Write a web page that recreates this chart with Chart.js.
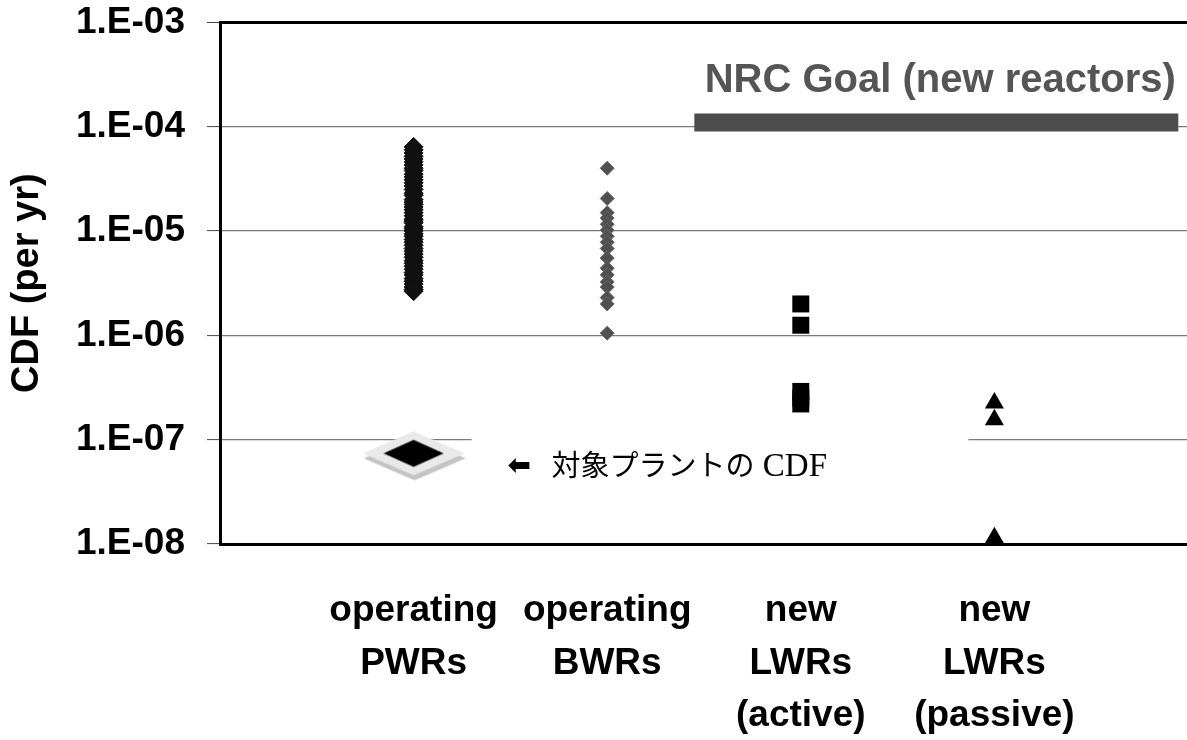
<!DOCTYPE html>
<html lang="ja">
<head>
<meta charset="utf-8">
<title>CDF (per yr)</title>
<script src="https://cdn.jsdelivr.net/npm/chart.js@4.4.1/dist/chart.umd.min.js"></script>
<style>
    html, body { margin: 0; padding: 0; background: #fff; overflow: hidden; }
    #wrap { width: 1200px; height: 740px; }
</style>
</head>
<body>
<div id="wrap"><canvas id="cdfChart" width="1200" height="740"></canvas></div>
<script>
// Category positions on the x axis and their (multi-line) labels
const categoryX = [1, 2, 3, 4];
const categoryLabels = [
    ['operating', 'PWRs'],
    ['operating', 'BWRs'],
    ['new', 'LWRs', '(active)'],
    ['new', 'LWRs', '(passive)']
];

// Log axis ticks
const yTickValues = [1e-8, 1e-7, 1e-6, 1e-5, 1e-4, 1e-3];
const yTickLabels = ['1.E-08', '1.E-07', '1.E-06', '1.E-05', '1.E-04', '1.E-03'];

// Core damage frequency per plant (per yr)
const pwrCdf = [
    6.4e-5, 6.0e-5, 5.6e-5, 5.2e-5, 4.9e-5, 4.6e-5, 4.3e-5, 4.0e-5, 3.8e-5, 3.5e-5,
    3.3e-5, 3.1e-5, 2.9e-5, 2.7e-5, 2.5e-5, 2.3e-5, 2.2e-5, 2.0e-5, 1.9e-5, 1.8e-5,
    1.7e-5, 1.6e-5, 1.5e-5, 1.4e-5, 1.3e-5, 1.25e-5, 1.2e-5, 1.1e-5, 1.05e-5, 1.0e-5,
    9.4e-6, 8.9e-6, 8.3e-6, 7.8e-6, 7.3e-6, 6.8e-6, 6.4e-6, 6.0e-6, 5.6e-6, 5.2e-6,
    4.9e-6, 4.6e-6, 4.3e-6, 4.0e-6, 3.8e-6, 3.5e-6, 3.3e-6, 3.1e-6, 2.9e-6, 2.75e-6,
    2.65e-6
];
const bwrCdf = [
    4.0e-5, 2.05e-5, 1.5e-5, 1.33e-5, 1.16e-5, 1.02e-5, 8.9e-6, 7.8e-6, 6.8e-6, 5.5e-6,
    4.4e-6, 3.8e-6, 3.25e-6, 2.9e-6, 2.3e-6, 2.0e-6, 1.05e-6
];
const activeCdf = [2.0e-6, 1.25e-6, 2.9e-7, 2.5e-7, 2.2e-7];
const passiveCdf = [2.25e-7, 1.55e-7, 1.15e-8];

// NRC goal for new reactors (drawn as a thick bar)
const nrcGoalX = [2.45, 4.95];
const nrcGoalValue = 1.1e-4;

// Target plant CDF marker
const plantX = 1;
const plantCdf = 7.4e-8;

const FONT = '"Liberation Sans", Arial, sans-serif';

/**
 * Builds the flat "plant" diamond with its grey base as an image point style
 */
function makePlantMarker() {
    const c = document.createElement('canvas');
    c.width = 112;
    c.height = 64;
    const g = c.getContext('2d');
    const diamond = (cx, cy, hw, hh, color) => {
        g.beginPath();
        g.moveTo(cx - hw, cy);
        g.lineTo(cx, cy - hh);
        g.lineTo(cx + hw, cy);
        g.lineTo(cx, cy + hh);
        g.closePath();
        g.fillStyle = color;
        g.fill();
    };
    diamond(57, 37, 51, 22, '#c4c4c4'); // shadow
    diamond(56, 32, 51, 22, '#e9e9e9'); // base
    diamond(56, 32, 30, 13.5, '#000000');
    return c;
}

const toPoints = (x, values) => values.map(v => ({ x: x, y: v }));

// Draws the NRC label and the plant note, and blanks the grid line behind the note
const annotationPlugin = {
    id: 'cdfNotes',
    beforeDatasetsDraw(chart) {
        const { ctx, scales: { x, y } } = chart;
        const gy = y.getPixelForValue(1e-7);
        ctx.save();
        ctx.fillStyle = '#ffffff';
        ctx.fillRect(x.getPixelForValue(categoryX[0]) + 58, gy - 5, x.getPixelForValue(categoryX[3]) - x.getPixelForValue(categoryX[0]) - 84, 10);
        ctx.restore();
    },
    afterDatasetsDraw(chart) {
        const { ctx, scales: { x, y } } = chart;
        ctx.save();

        // NRC Goal label above the bar
        const midX = x.getPixelForValue((nrcGoalX[0] + nrcGoalX[1]) / 2);
        ctx.font = 'bold 40px ' + FONT;
        ctx.fillStyle = '#555555';
        ctx.textAlign = 'center';
        ctx.textBaseline = 'alphabetic';
        ctx.fillText('NRC Goal (new reactors)', midX + 4, y.getPixelForValue(nrcGoalValue) - 30);

        // Note for the target plant marker
        const px = x.getPixelForValue(plantX) + 94;
        const py = y.getPixelForValue(plantCdf) + 23;
        ctx.textAlign = 'left';
        ctx.fillStyle = '#000000';
        ctx.font = 'bold 28px "DejaVu Sans", sans-serif';
        ctx.fillText('\u2B05', px, py - 2);
        ctx.font = '29px "Liberation Serif", "Noto Sans CJK JP", serif';
        const jp = '対象プラントの';
        ctx.fillText(jp, px + 44, py);
        const jpWidth = ctx.measureText(jp).width;
        ctx.font = '33px "Liberation Serif", serif';
        ctx.fillText(' CDF', px + 44 + jpWidth, py);

        ctx.restore();
    }
};

function renderCdfChart() {
    const ctx = document.getElementById('cdfChart');

    new Chart(ctx, {
        type: 'scatter',
        data: {
            datasets: [
                {
                    label: 'NRC Goal (new reactors)',
                    type: 'line',
                    data: nrcGoalX.map(v => ({ x: v, y: nrcGoalValue })),
                    borderColor: '#4d4d4d',
                    borderWidth: 18,
                    borderCapStyle: 'butt',
                    pointRadius: 0,
                    fill: false,
                    clip: false
                },
                {
                    label: 'operating PWRs',
                    data: toPoints(categoryX[0], pwrCdf),
                    pointStyle: 'rectRot',
                    pointRadius: 9.5,
                    backgroundColor: '#111111',
                    borderColor: '#111111',
                    borderWidth: 1,
                    clip: false
                },
                {
                    label: 'operating BWRs',
                    data: toPoints(categoryX[1], bwrCdf),
                    pointStyle: 'rectRot',
                    pointRadius: 7,
                    backgroundColor: '#505050',
                    borderColor: '#666666',
                    borderWidth: 1,
                    clip: false
                },
                {
                    label: 'new LWRs (active)',
                    data: toPoints(categoryX[2], activeCdf),
                    pointStyle: 'rect',
                    pointRadius: 12,
                    backgroundColor: '#000000',
                    borderColor: '#000000',
                    borderWidth: 0,
                    clip: false
                },
                {
                    label: 'new LWRs (passive)',
                    data: toPoints(categoryX[3], passiveCdf),
                    pointStyle: 'triangle',
                    pointRadius: 11,
                    backgroundColor: '#000000',
                    borderColor: '#000000',
                    borderWidth: 0,
                    clip: false
                },
                {
                    label: '対象プラントの CDF',
                    data: [{ x: plantX, y: plantCdf }],
                    pointStyle: makePlantMarker(),
                    clip: false
                }
            ]
        },
        options: {
            responsive: false,
            animation: false,
            devicePixelRatio: 1,
            layout: { padding: { top: 0, right: 8, bottom: 0, left: 0 } },
            plugins: {
                legend: { display: false },
                tooltip: { enabled: false }
            },
            scales: {
                x: {
                    type: 'linear',
                    min: 0,
                    max: 5,
                    afterBuildTicks: axis => { axis.ticks = categoryX.map(v => ({ value: v })); },
                    afterFit: axis => { axis.height = 196; },
                    grid: { display: false, drawTicks: false },
                    border: { display: true, color: '#000000', width: 3 },
                    ticks: {
                        color: '#000000',
                        padding: 40,
                        autoSkip: false,
                        maxRotation: 0,
                        font: { family: FONT, size: 37, weight: 'bold', lineHeight: 1.43 },
                        callback: (value) => categoryLabels[categoryX.indexOf(value)] || ''
                    }
                },
                y: {
                    type: 'logarithmic',
                    min: 1e-8,
                    max: 1e-3,
                    afterBuildTicks: axis => { axis.ticks = yTickValues.map(v => ({ value: v })); },
                    afterFit: axis => { axis.width = 220; },
                    grid: {
                        color: c => (c.tick && c.tick.value === 1e-3 ? '#000000' : '#7a7a7a'),
                        lineWidth: c => (c.tick && c.tick.value === 1e-3 ? 3 : 1.2),
                        tickLength: 13,
                        tickColor: '#444444',
                        tickWidth: 1
                    },
                    border: { display: true, color: '#000000', width: 3 },
                    ticks: {
                        color: '#000000',
                        padding: 22,
                        // tiny line height keeps the top label from pushing the plot down
                        font: { family: FONT, size: 37, weight: 'bold', lineHeight: 0.02 },
                        callback: (value) => yTickLabels[yTickValues.indexOf(value)] || ''
                    },
                    title: {
                        display: true,
                        text: 'CDF (per yr)',
                        color: '#000000',
                        padding: { top: 5, bottom: 27 },
                        font: { family: FONT, size: 38, weight: 'bold' }
                    }
                }
            }
        },
        plugins: [annotationPlugin]
    });
}

document.addEventListener('DOMContentLoaded', renderCdfChart);
</script>
</body>
</html>
